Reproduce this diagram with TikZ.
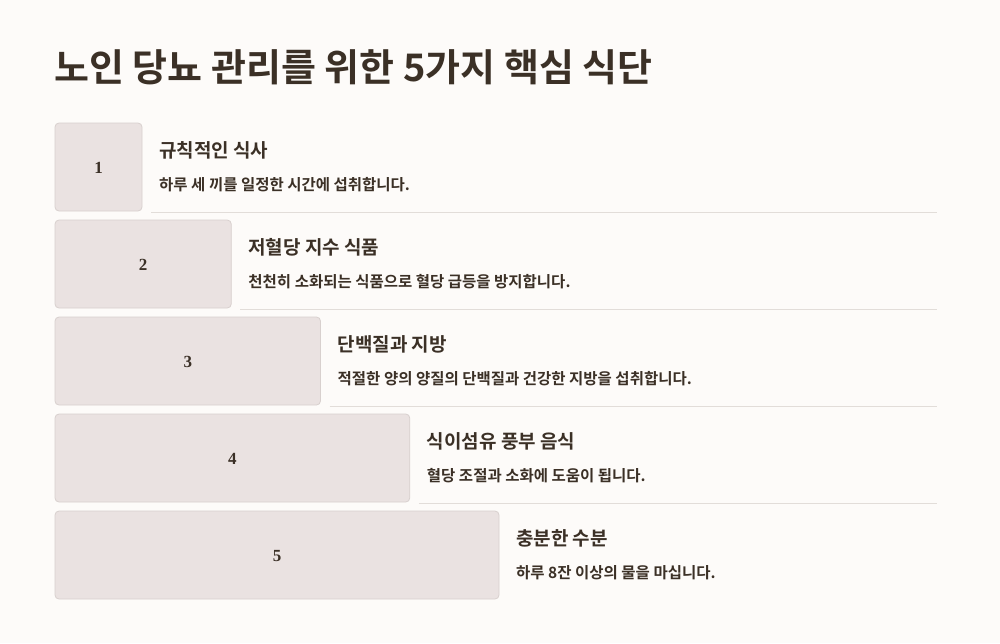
\documentclass[tikz,border=0pt]{standalone}
\usepackage{fontspec}
\setmainfont{Liberation Serif}
\newfontfamily\krb{Noto Sans CJK KR Bold}
\definecolor{bg}{HTML}{FDFBF9}
\definecolor{boxfill}{HTML}{EAE2E1}
\definecolor{boxline}{HTML}{D8D0CE}
\definecolor{ink}{HTML}{3B3026}
\definecolor{sep}{HTML}{E2DDD9}
\tikzset{
  stepbox/.style={draw=boxline, fill=boxfill, rounded corners=4pt, line width=0.8pt},
  numtext/.style={font=\bfseries\fontsize{17}{19}\selectfont, text=ink},
  headtext/.style={anchor=west, inner sep=0pt, font=\krb\fontsize{19}{22}\selectfont, text=ink},
  desctext/.style={anchor=west, inner sep=0pt, font=\krb\fontsize{15.5}{18}\selectfont, text=ink},
  sepline/.style={draw=sep, line width=0.8pt}
}
\begin{document}
\begin{tikzpicture}[x=1pt,y=-1pt]
\useasboundingbox[fill=bg] (0,0) rectangle (1000,643);
\node[anchor=west, inner sep=0pt, font=\krb\fontsize{38}{42}\selectfont, text=ink] (title) at (54,67) {노인 당뇨 관리를 위한 5가지 핵심 식단};
\foreach \i/\h/\d in {
  0/규칙적인 식사/하루 세 끼를 일정한 시간에 섭취합니다.,
  1/저혈당 지수 식품/천천히 소화되는 식품으로 혈당 급등을 방지합니다.,
  2/단백질과 지방/적절한 양의 양질의 단백질과 건강한 지방을 섭취합니다.,
  3/식이섬유 풍부 음식/혈당 조절과 소화에 도움이 됩니다.,
  4/충분한 수분/하루 8잔 이상의 물을 마십니다.}{
  \pgfmathsetmacro{\top}{123+97*\i}
  \pgfmathsetmacro{\right}{55+87+89.25*\i}
  \pgfmathtruncatemacro{\n}{\i+1}
  \draw[stepbox] (55,\top) rectangle (\right,\top+88);
  \coordinate (bc\i) at ({(55+\right)/2},\top+45);
  \node[numtext] (num\i) at (bc\i) {\n};
  \node[headtext] (head\i) at (\right+17,\top+27.5) {\h};
  \node[desctext] (desc\i) at (\right+17,\top+61.5) {\d};
  \ifnum\i<4
    \coordinate (sa\i) at (\right+9,\top+89);
    \coordinate (sb\i) at (937,\top+89);
    \draw[sepline] (sa\i) -- (sb\i);
  \fi
}
\end{tikzpicture}
\end{document}
